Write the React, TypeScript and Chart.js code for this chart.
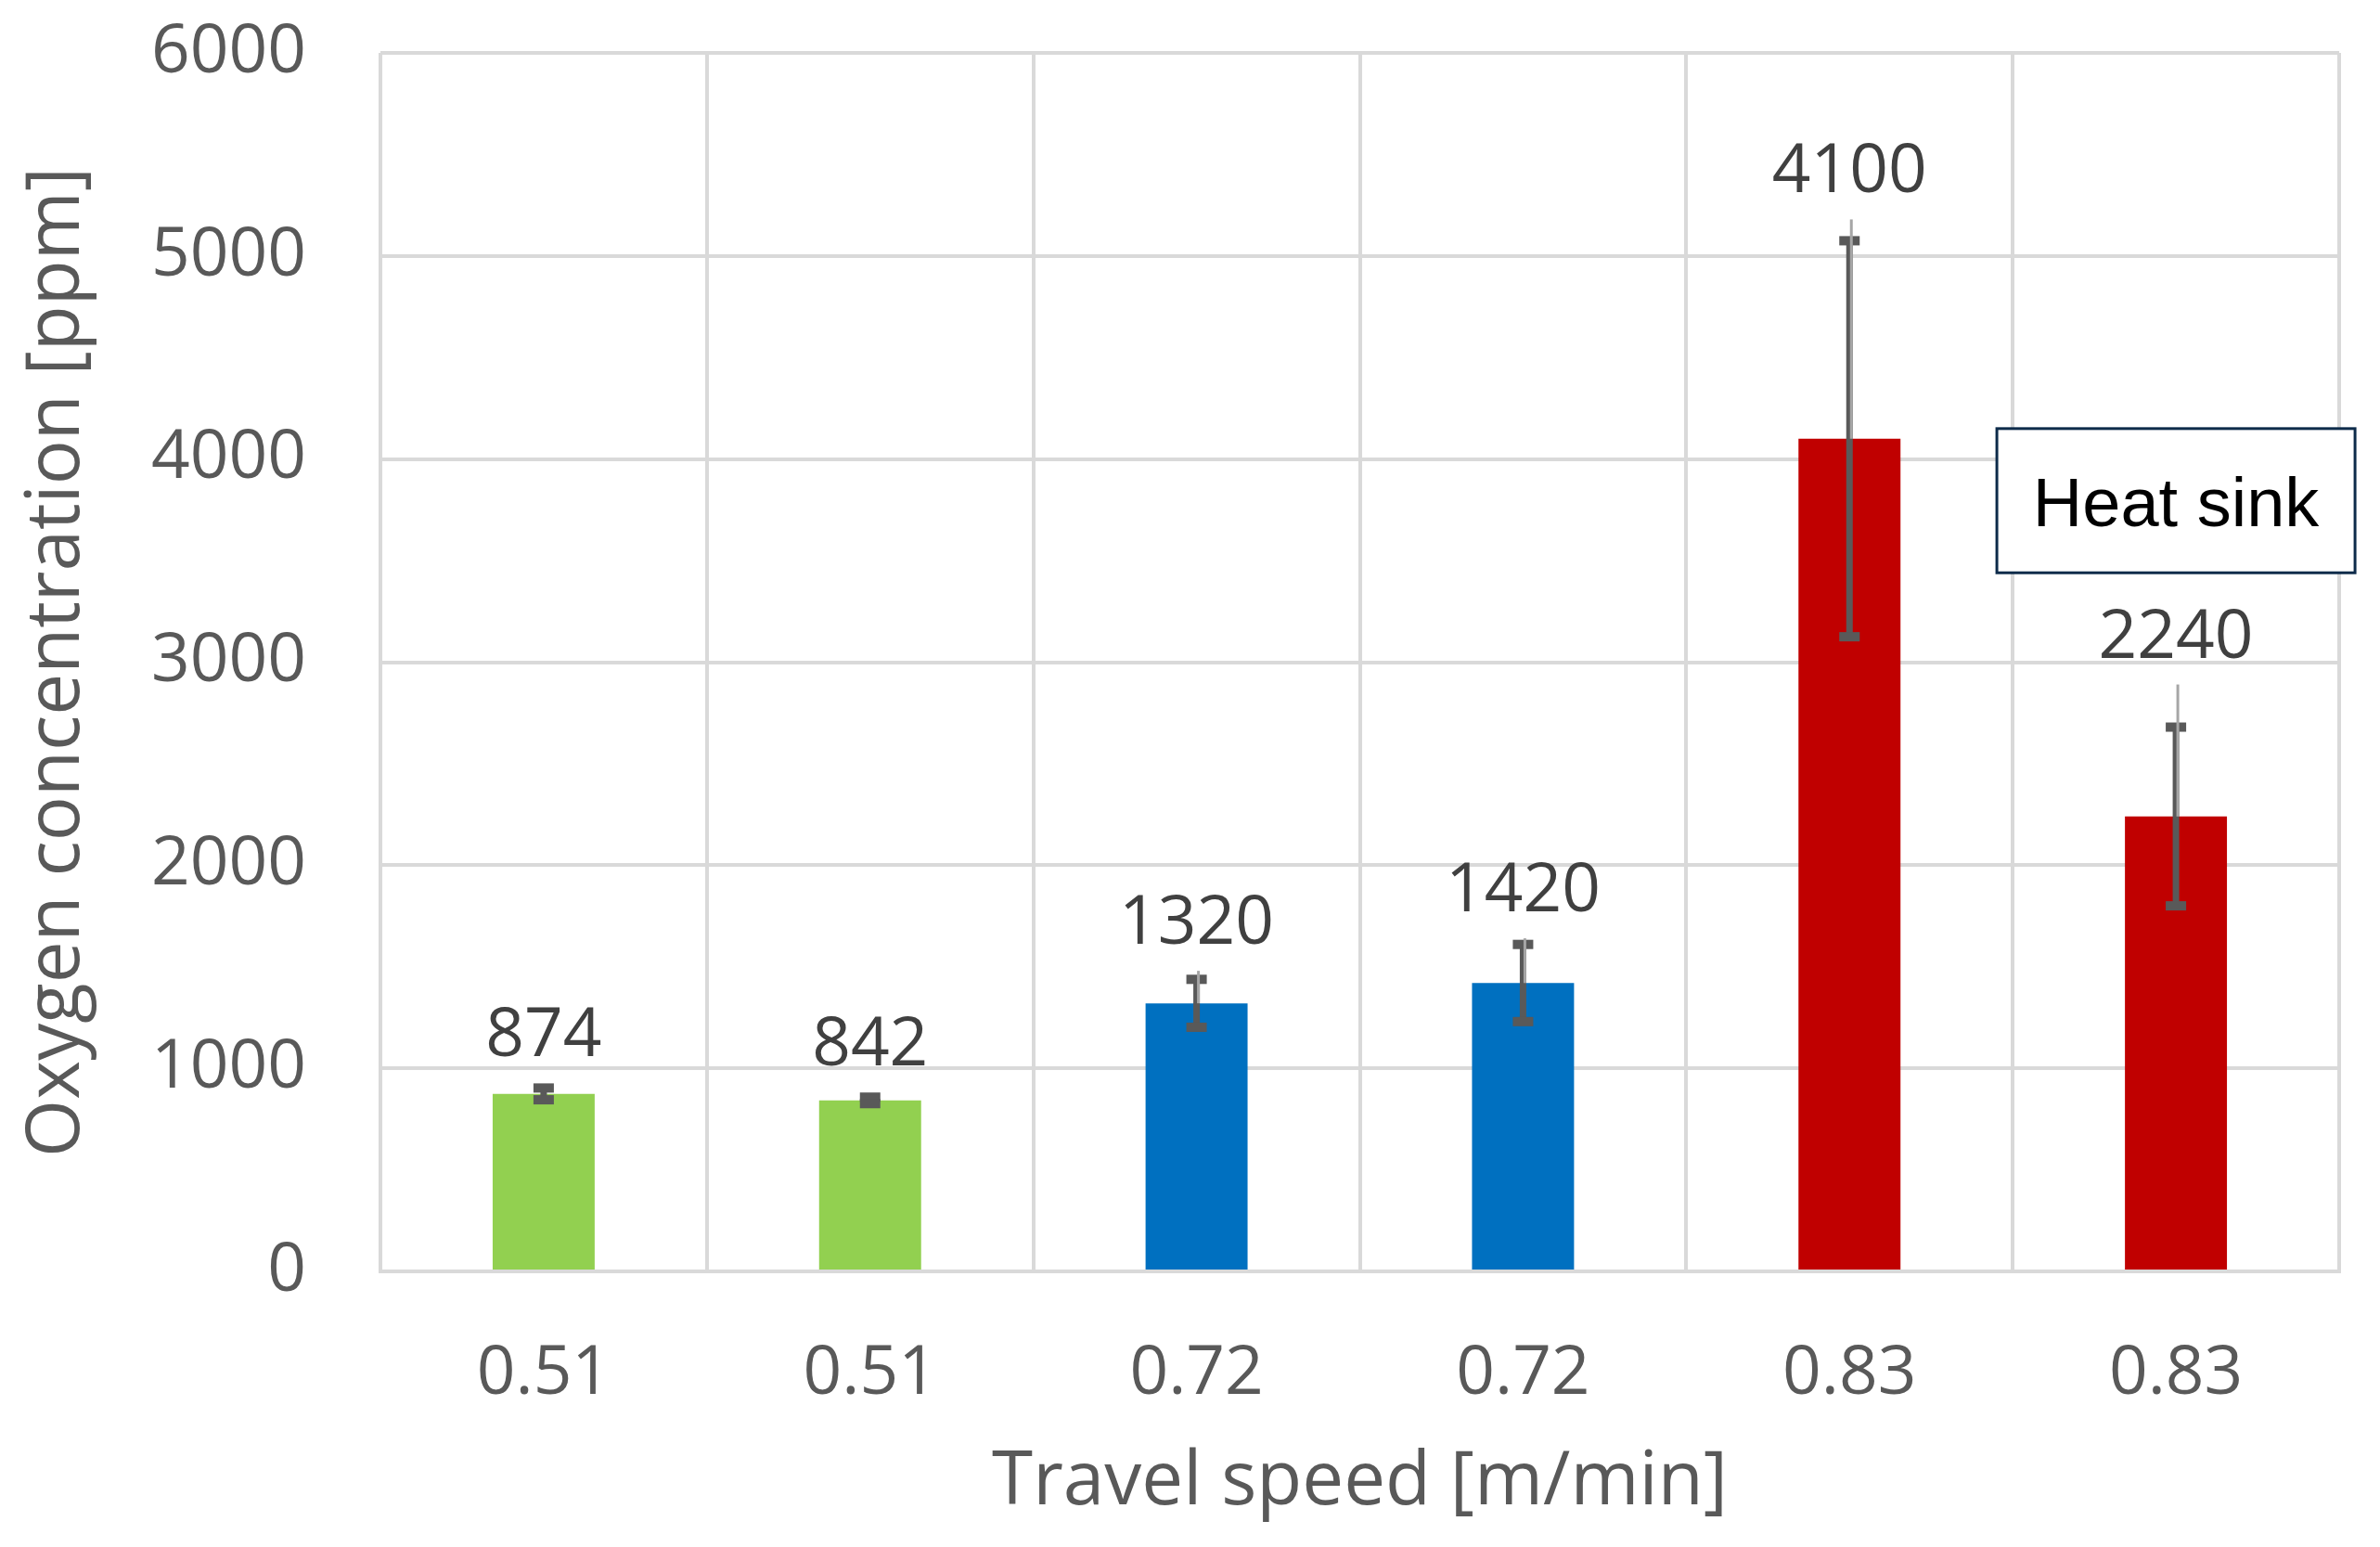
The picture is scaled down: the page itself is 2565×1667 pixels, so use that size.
import React, { useEffect, useRef } from "react";
import { Chart, registerables } from "chart.js";

Chart.register(...registerables);

// ---- Data ----
const categories = ["0.51", "0.51", "0.72", "0.72", "0.83", "0.83"];
const values = [874, 842, 1320, 1420, 4100, 2240];
const errors = [29, 16, 118, 190, 975, 440];
const lightLineTops: (number | null)[] = [null, null, 1480, 1640, 5180, 2890];
const barColors = ["#92d050", "#92d050", "#0070c0", "#0070c0", "#c00000", "#c00000"];
const yMin = 0;
const yMax = 6000;
const yStep = 1000;
const xTitle = "Travel speed [m/min]";
const yTitle = "Oxygen concentration [ppm]";
const annotationText = "Heat sink";
const annotationCategory = 5;
const annotationTop = 4150;
const annotationBottom = 3440;

const FONT = "'Open Sans', sans-serif";

const overlayPlugin = {
  id: "overlay",
  afterDatasetsDraw(chart: any) {
    const ctx = chart.ctx;
    const y = chart.scales.y;
    const meta = chart.getDatasetMeta(0);
    ctx.save();
    meta.data.forEach((bar: any, i: number) => {
      const x = bar.x;
      const v = values[i];
      const e = errors[i];
      const yHi = y.getPixelForValue(v + e);
      const yLo = y.getPixelForValue(v - e);
      ctx.fillStyle = "#595959";
      ctx.fillRect(x - 3.5, yHi, 7, yLo - yHi);
      ctx.fillRect(x - 11, yHi - 5, 22, 10);
      ctx.fillRect(x - 11, yLo - 5, 22, 10);
      let topPix = yHi - 5;
      const lt = lightLineTops[i];
      if (lt !== null) {
        const yT = y.getPixelForValue(lt);
        const yB = y.getPixelForValue(v);
        ctx.fillStyle = "#a6a6a6";
        ctx.fillRect(x + 0.5, yT, 3, yB - yT);
        topPix = Math.min(topPix, yT);
      }
      // data label
      ctx.fillStyle = "#404040";
      ctx.font = `73px ${FONT}`;
      ctx.textAlign = "center";
      ctx.textBaseline = "alphabetic";
      ctx.fillText(String(v), x, topPix - 29);
    });

    // annotation box
    const xs = chart.scales.x;
    const cx = xs.getPixelForValue(annotationCategory);
    const top = y.getPixelForValue(annotationTop);
    const bottom = y.getPixelForValue(annotationBottom);
    const w = 386;
    ctx.fillStyle = "#ffffff";
    ctx.fillRect(cx - w / 2, top, w, bottom - top);
    ctx.strokeStyle = "#0d2b4a";
    ctx.lineWidth = 3;
    ctx.strokeRect(cx - w / 2, top, w, bottom - top);
    ctx.fillStyle = "#000000";
    ctx.font = `74px 'Liberation Sans', Arial, sans-serif`;
    ctx.textAlign = "center";
    ctx.textBaseline = "alphabetic";
    ctx.fillText(annotationText, cx, (top + bottom) / 2 + 27);
    ctx.restore();
  },
};

export default function App() {
  const ref = useRef<HTMLCanvasElement | null>(null);
  useEffect(() => {
    document.body.style.margin = "0";
    const canvas = ref.current!;
    const chart = new Chart(canvas, {
      type: "bar",
      data: {
        labels: categories,
        datasets: [
          {
            data: values,
            backgroundColor: barColors,
            borderWidth: 0,
            barPercentage: 0.3125,
            categoryPercentage: 1,
          },
        ],
      },
      options: {
        animation: false,
        responsive: false,
        maintainAspectRatio: false,
        layout: { padding: { top: 57, right: 44, left: 0, bottom: 0 } },
        plugins: {
          legend: { display: false },
          tooltip: { enabled: false },
        },
        scales: {
          x: {
            offset: true,
            grid: { color: "#d9d9d9", lineWidth: 4, offset: true, drawTicks: false },
            border: { color: "#d9d9d9", width: 4 },
            ticks: {
              color: "#595959",
              font: { family: FONT, size: 73 },
              padding: 67,
              maxRotation: 0,
              autoSkip: false,
            },
            title: {
              display: true,
              text: xTitle,
              color: "#595959",
              font: { family: FONT, size: 80 },
              padding: { top: 0, bottom: 21 },
            },
            afterFit(scale: any) {
              scale.height = 297;
              scale.paddingLeft = 0;
              scale.paddingRight = 0;
            },
          },
          y: {
            min: yMin,
            max: yMax,
            grid: { color: "#d9d9d9", lineWidth: 4, drawTicks: false },
            border: { display: false },
            ticks: {
              stepSize: yStep,
              color: "#595959",
              font: { family: FONT, size: 73 },
              padding: 80,
              callback: (v: any) => String(v),
            },
            title: {
              display: true,
              text: yTitle,
              color: "#595959",
              font: { family: FONT, size: 80 },
              padding: { top: 14, bottom: 0 },
            },
            afterFit(scale: any) {
              scale.width = 410;
              scale.paddingTop = 0;
              scale.paddingBottom = 0;
            },
          },
        },
      },
      plugins: [overlayPlugin],
    });
    return () => chart.destroy();
  }, []);
  return (
    <canvas
      ref={ref}
      width={2565}
      height={1667}
      style={{ display: "block", width: 2565, height: 1667 }}
    />
  );
}
